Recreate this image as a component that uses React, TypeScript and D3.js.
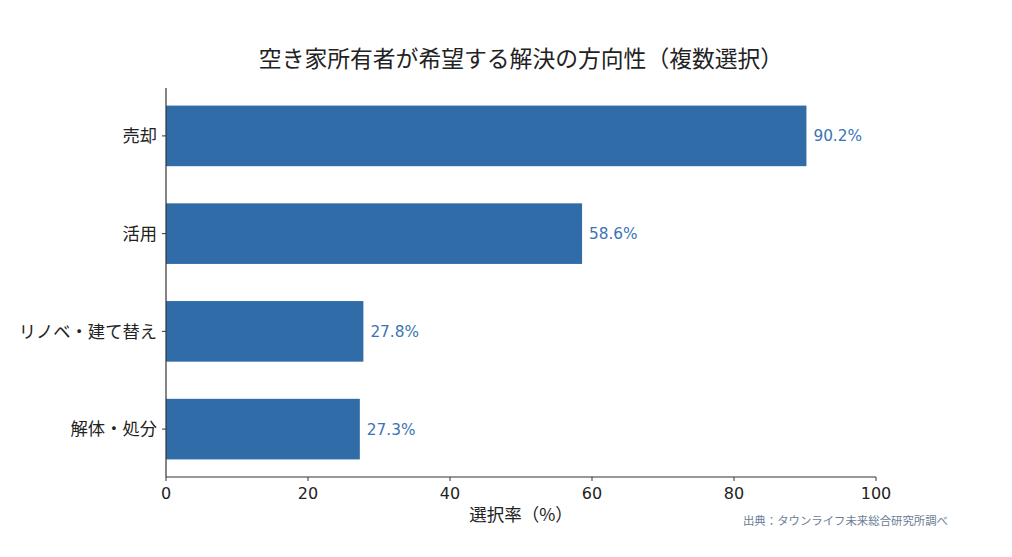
import { useEffect, useRef } from 'react'
import * as d3 from 'd3'

const categories = ['売却', '活用', 'リノベ・建て替え', '解体・処分']
const values = [90.2, 58.6, 27.8, 27.3]
const xTicks = [0, 20, 40, 60, 80, 100]

const W = 1012
const H = 557
const PLOT = { left: 166, right: 876, top: 88, bottom: 477 }
const FONT = '"Noto Sans CJK JP", "Noto Sans", sans-serif'
const NUM_FONT = '"DejaVu Sans", "Noto Sans CJK JP", sans-serif'

export default function App() {
  const ref = useRef<SVGSVGElement>(null)

  useEffect(() => {
    if (!ref.current) return
    const svg = d3.select(ref.current)
    svg.selectAll('*').remove()

    const x = d3.scaleLinear().domain([0, 100]).range([PLOT.left, PLOT.right])
    const y = d3.scaleLinear().domain([-0.49, 3.49]).range([PLOT.top, PLOT.bottom])
    const barH = y(0.62) - y(0)

    svg.append('rect').attr('width', W).attr('height', H).attr('fill', '#fff')

    // title
    svg.append('text')
      .attr('x', (PLOT.left + PLOT.right) / 2).attr('y', 67)
      .attr('text-anchor', 'middle')
      .attr('font-family', FONT).attr('font-size', 22.8).attr('fill', '#222')
      .text('空き家所有者が希望する解決の方向性（複数選択）')

    // bars
    svg.selectAll('.bar').data(values).join('rect')
      .attr('x', x(0))
      .attr('y', (_, i) => y(i) - barH / 2)
      .attr('width', d => x(d) - x(0))
      .attr('height', barH)
      .attr('fill', '#2f6ca8')

    // value labels
    svg.selectAll('.val').data(values).join('text')
      .attr('x', d => x(d) + 7)
      .attr('y', (_, i) => y(i))
      .attr('dy', '0.36em')
      .attr('font-family', NUM_FONT).attr('font-size', 15.3).attr('fill', '#3b74b4')
      .text(d => `${d.toFixed(1)}%`)

    // y axis
    svg.append('line')
      .attr('x1', PLOT.left).attr('x2', PLOT.left)
      .attr('y1', PLOT.top).attr('y2', PLOT.bottom)
      .attr('stroke', '#333').attr('stroke-width', 1.2)
    categories.forEach((c, i) => {
      svg.append('line')
        .attr('x1', PLOT.left - 4).attr('x2', PLOT.left)
        .attr('y1', y(i)).attr('y2', y(i))
        .attr('stroke', '#333')
      svg.append('text')
        .attr('x', PLOT.left - 9).attr('y', y(i))
        .attr('dy', '0.36em').attr('text-anchor', 'end')
        .attr('font-family', FONT).attr('font-size', 17.3).attr('fill', '#222')
        .text(c)
    })

    // x axis
    svg.append('line')
      .attr('x1', PLOT.left).attr('x2', PLOT.right)
      .attr('y1', PLOT.bottom).attr('y2', PLOT.bottom)
      .attr('stroke', '#333').attr('stroke-width', 1.2)
    xTicks.forEach(t => {
      svg.append('line')
        .attr('x1', x(t)).attr('x2', x(t))
        .attr('y1', PLOT.bottom).attr('y2', PLOT.bottom + 4)
        .attr('stroke', '#333')
      svg.append('text')
        .attr('x', x(t)).attr('y', PLOT.bottom + 22)
        .attr('text-anchor', 'middle')
        .attr('font-family', NUM_FONT).attr('font-size', 16).attr('fill', '#222')
        .text(t)
    })

    svg.append('text')
      .attr('x', (PLOT.left + PLOT.right) / 2).attr('y', 521)
      .attr('text-anchor', 'middle')
      .attr('font-family', FONT).attr('font-size', 17.5).attr('fill', '#222')
      .text('選択率（%）')

    svg.append('text')
      .attr('x', 948).attr('y', 525)
      .attr('text-anchor', 'end')
      .attr('font-family', FONT).attr('font-size', 11.4).attr('fill', '#6a7d96')
      .text('出典：タウンライフ未来総合研究所調べ')
  }, [])

  return (
    <svg ref={ref} width={W} height={H}
      style={{ display: 'block', position: 'absolute', left: 0, top: 0 }} />
  )
}
